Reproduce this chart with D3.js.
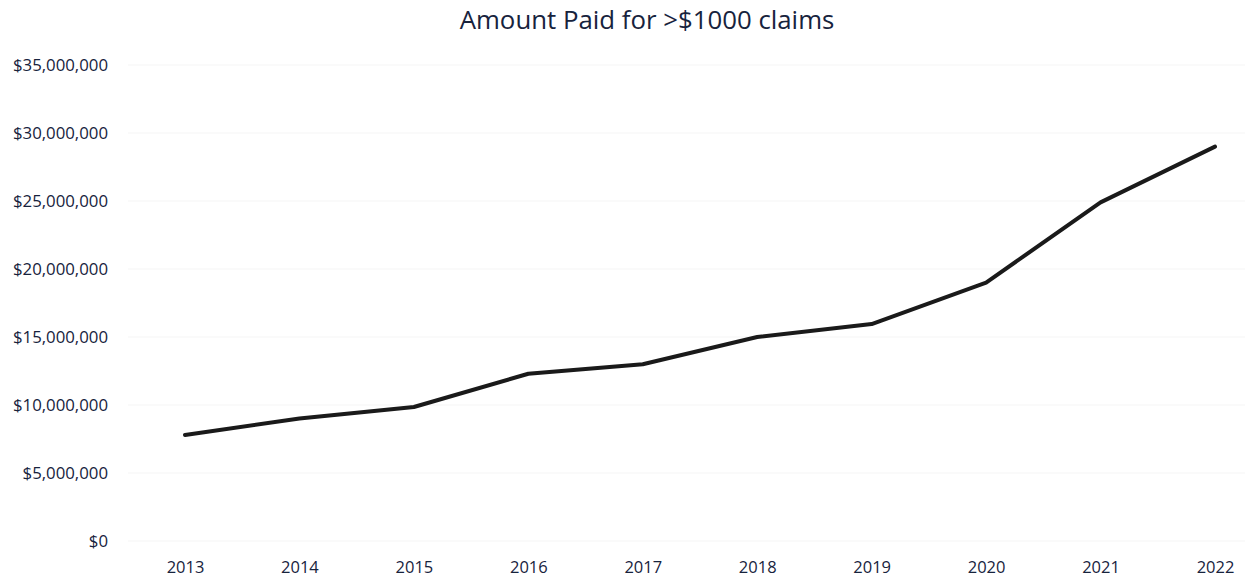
<!DOCTYPE html>
<html><head><meta charset="utf-8">
<script src="https://cdn.jsdelivr.net/npm/d3@7"></script>
<style>
html,body{margin:0;padding:0;background:#fff;}
svg text{font-family:"Open Sans",sans-serif;}
</style></head>
<body>
<svg id="chart" width="1255" height="577"></svg>
<script>
const years = ["2013","2014","2015","2016","2017","2018","2019","2020","2021","2022"];
const amounts = [7800000, 9000000, 9850000, 12300000, 13000000, 15000000, 15950000, 19000000, 24900000, 29000000];
const yTicks = [0, 5000000, 10000000, 15000000, 20000000, 25000000, 30000000, 35000000];
const title = "Amount Paid for >$1000 claims";

const svg = d3.select("#chart");
const x = d3.scalePoint().domain(years).range([185, 1215]);
const y = d3.scaleLinear().domain([0, 35000000]).range([541, 65]);
const fmt = v => "$" + d3.format(",")(v);

// faint gridlines
svg.append("g").selectAll("line").data(yTicks).join("line")
  .attr("x1", 128).attr("x2", 1245)
  .attr("y1", d => y(d)).attr("y2", d => y(d))
  .attr("stroke", "#f5f5f5").attr("stroke-width", 1);

// y axis
const ya = svg.append("g").attr("transform", "translate(108,0)")
  .call(d3.axisLeft(y).tickValues(yTicks).tickFormat(fmt).tickSize(0).tickPadding(0));
ya.select(".domain").remove();
ya.selectAll("text").attr("font-size", 16.8).attr("fill", "#17233d").attr("font-family", "Open Sans, sans-serif");

// x axis
const xa = svg.append("g").attr("transform", "translate(0,555)")
  .call(d3.axisBottom(x).tickSize(0).tickPadding(6));
xa.select(".domain").remove();
xa.selectAll("text").attr("font-size", 16.5).attr("fill", "#17233d").attr("font-family", "Open Sans, sans-serif");

// line
const line = d3.line().x((d,i) => x(years[i])).y(d => y(d));
svg.append("path").datum(amounts)
  .attr("d", line).attr("fill", "none")
  .attr("stroke", "#1a1a1a").attr("stroke-width", 4)
  .attr("stroke-linejoin", "round").attr("stroke-linecap", "round");

// title
svg.append("text").attr("x", 647).attr("y", 29).attr("text-anchor", "middle")
  .attr("font-size", 25.8).attr("fill", "#17233d").text(title);
</script>
</body></html>
